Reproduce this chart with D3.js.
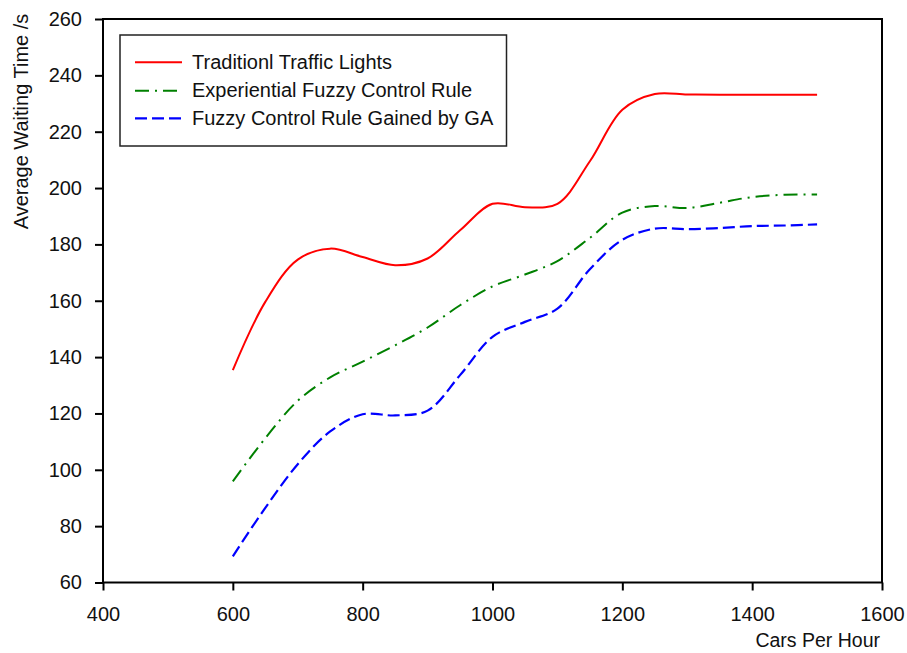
<!DOCTYPE html>
<html>
<head>
<meta charset="utf-8">
<script src="https://cdn.jsdelivr.net/npm/d3@7"></script>
<style>
  html, body { margin: 0; padding: 0; background: #fff; }
  svg { display: block; }
  text { font-family: "Liberation Sans", Arial, sans-serif; fill: #111; }
</style>
</head>
<body>
<svg id="chart" width="907" height="653"></svg>
<script>
const carsPerHour = [600, 650, 700, 750, 800, 850, 900, 950, 1000, 1050, 1100, 1150, 1200, 1250, 1300, 1350, 1400, 1450, 1500];
const traditional = [135.4, 159.6, 174.6, 178.5, 175.5, 172.6, 175.0, 185.0, 194.4, 193.2, 194.4, 209.5, 227.8, 233.4, 233.2, 233.1, 233.1, 233.1, 233.1];
const experiential = [95.9, 111.2, 124.5, 132.8, 138.4, 144.2, 150.5, 158.4, 165.1, 169.3, 174.1, 182.3, 191.3, 193.6, 192.9, 194.8, 196.8, 197.6, 197.7];
const gaRule = [69.3, 86.5, 102.0, 113.6, 119.7, 119.3, 121.0, 133.6, 147.2, 152.5, 157.2, 171.2, 181.6, 185.6, 185.4, 185.8, 186.5, 186.7, 187.1];
const xTicks = [400, 600, 800, 1000, 1200, 1400, 1600];
const yTicks = [60, 80, 100, 120, 140, 160, 180, 200, 220, 240, 260];
const seriesNames = ["Traditionl Traffic Lights", "Experiential Fuzzy Control Rule", "Fuzzy Control Rule Gained by GA"];
const xTitle = "Cars Per Hour";
const yTitle = "Average Waiting Time /s";

const svg = d3.select("#chart");
const L = 103, R = 882, T = 19, B = 582.5;
const x = d3.scaleLinear().domain([400, 1600]).range([L, R]);
const y = d3.scaleLinear().domain([60, 260]).range([B, T]);

svg.append("rect").attr("width", 907).attr("height", 653).attr("fill", "#fff");

const series = [
  { name: seriesNames[0], values: traditional, color: "#ff0000", dash: null, width: 2 },
  { name: seriesNames[1], values: experiential, color: "#008000", dash: "14,6,2,6", width: 2 },
  { name: seriesNames[2], values: gaRule, color: "#0000ff", dash: "12,5", width: 2.2 }
];

const line = d3.line()
  .x((d, i) => x(carsPerHour[i]))
  .y(d => y(d))
  .curve(d3.curveCatmullRom.alpha(0.5));

series.forEach(s => {
  svg.append("path")
    .attr("d", line(s.values))
    .attr("fill", "none")
    .attr("stroke", s.color)
    .attr("stroke-width", s.width)
    .attr("stroke-dasharray", s.dash);
});

// axes
const xAxis = svg.append("g")
  .attr("transform", `translate(0,${B})`)
  .call(d3.axisBottom(x).tickValues(xTicks).tickFormat(d3.format("d")).tickSize(8).tickPadding(16));
const yAxis = svg.append("g")
  .attr("transform", `translate(${L},0)`)
  .call(d3.axisLeft(y).tickValues(yTicks).tickFormat(d3.format("d")).tickSize(8).tickPadding(13));
[xAxis, yAxis].forEach(g => {
  g.select(".domain").remove();
  g.selectAll(".tick line").attr("stroke", "#000").attr("stroke-width", 2);
  g.selectAll(".tick text").attr("font-size", 20).attr("font-family", "Liberation Sans, Arial, sans-serif").attr("fill", "#111");
});

// frame
svg.append("rect")
  .attr("x", L).attr("y", T).attr("width", R - L).attr("height", B - T)
  .attr("fill", "none").attr("stroke", "#000").attr("stroke-width", 2);

// titles
svg.append("text")
  .attr("x", 880).attr("y", 647)
  .attr("text-anchor", "end")
  .attr("font-size", 19.5)
  .text(xTitle);
svg.append("text")
  .attr("transform", "translate(28,121.5) rotate(-90)")
  .attr("text-anchor", "middle")
  .attr("font-size", 20)
  .text(yTitle);

// legend
const lg = svg.append("g");
lg.append("rect")
  .attr("x", 120).attr("y", 35).attr("width", 386.5).attr("height", 111)
  .attr("fill", "#fff").attr("stroke", "#222").attr("stroke-width", 1.5);
const rowY = [62.3, 90.7, 118.3];
series.forEach((s, i) => {
  lg.append("line")
    .attr("x1", 135).attr("x2", 182)
    .attr("y1", rowY[i]).attr("y2", rowY[i])
    .attr("stroke", s.color).attr("stroke-width", s.width)
    .attr("stroke-dasharray", s.dash);
  lg.append("text")
    .attr("x", 192).attr("y", rowY[i] + 6.5)
    .attr("font-size", 20)
    .text(s.name);
});
</script>
</body>
</html>
